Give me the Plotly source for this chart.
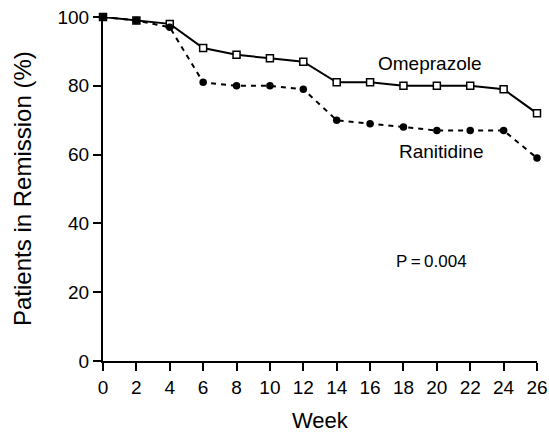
import plotly.graph_objects as go

weeks = [0, 2, 4, 6, 8, 10, 12, 14, 16, 18, 20, 22, 24, 26]
omeprazole = [100, 99, 98, 91, 89, 88, 87, 81, 81, 80, 80, 80, 79, 72]
ranitidine = [100, 99, 97, 81, 80, 80, 79, 70, 69, 68, 67, 67, 67, 59]
x_ticks = list(range(0, 27, 2))
y_ticks = [0, 20, 40, 60, 80, 100]

FONT = "Liberation Sans, Arial, Helvetica, sans-serif"

fig = go.Figure()
fig.add_trace(go.Scatter(
    x=weeks, y=omeprazole, mode="lines+markers", name="Omeprazole",
    line=dict(color="black", width=2),
    marker=dict(symbol="square", size=7, color="white", line=dict(color="black", width=1.5)),
    cliponaxis=False,
))
fig.add_trace(go.Scatter(
    x=weeks, y=ranitidine, mode="lines+markers", name="Ranitidine",
    line=dict(color="black", width=2, dash="5px,5px"),
    marker=dict(symbol="circle", size=7.5, color="black"),
    cliponaxis=False,
))

fig.update_layout(
    width=549, height=433,
    margin=dict(l=103, r=12, t=17, b=72),
    paper_bgcolor="white", plot_bgcolor="white",
    showlegend=False,
    font=dict(family=FONT, color="black"),
    xaxis=dict(
        range=[0, 26], tickvals=x_ticks, ticktext=[str(v) for v in x_ticks],
        showgrid=False, zeroline=False, showline=True, linecolor="black", linewidth=2,
        ticks="outside", ticklen=8, tickwidth=2, tickcolor="black",
        tickfont=dict(size=19, family=FONT), automargin=False,
    ),
    yaxis=dict(
        range=[0, 100], tickvals=y_ticks, ticktext=[str(v) for v in y_ticks],
        showgrid=False, zeroline=False, showline=True, linecolor="black", linewidth=2,
        ticks="outside", ticklen=8, tickwidth=2, tickcolor="black",
        tickfont=dict(size=19, family=FONT), automargin=False,
    ),
    annotations=[
        dict(text="Patients in Remission (%)", xref="paper", yref="paper",
             x=-103/434 + 22/434, y=0.5, xanchor="center", yanchor="middle",
             textangle=-90, showarrow=False, font=dict(size=24, family=FONT)),
        dict(text="Week", xref="paper", yref="paper",
             x=0.5, y=-(420-361)/344, xanchor="center", yanchor="middle",
             showarrow=False, font=dict(size=22, family=FONT)),
        dict(text="Omeprazole", x=19.6, y=86.5, xref="x", yref="y",
             xanchor="center", yanchor="middle", showarrow=False,
             font=dict(size=19, family=FONT)),
        dict(text="Ranitidine", x=20.3, y=60.8, xref="x", yref="y",
             xanchor="center", yanchor="middle", showarrow=False,
             font=dict(size=19, family=FONT)),
        dict(text="P\u2009=\u20090.004", x=19.7, y=29, xref="x", yref="y",
             xanchor="center", yanchor="middle", showarrow=False,
             font=dict(size=17, family=FONT)),
    ],
)

fig.write_html(
    "out.html",
    config={"displayModeBar": False},
    post_script="document.body.style.margin='0';document.body.style.padding='0';document.body.style.overflow='hidden';",
)
